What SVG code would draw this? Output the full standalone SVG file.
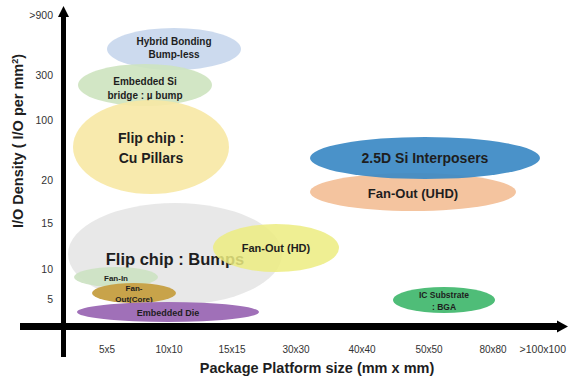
<svg xmlns="http://www.w3.org/2000/svg" width="568" height="377" viewBox="0 0 568 377">
<style>
.lbl{font-family:"Liberation Sans",Arial,sans-serif;font-weight:bold;fill:#1e1e1e;text-anchor:middle}
.tick{font-family:"Liberation Sans",Arial,sans-serif;font-size:10.5px;fill:#333;}
.yt{text-anchor:end}
.xt{text-anchor:middle;font-size:10px}
.title{font-family:"Liberation Sans",Arial,sans-serif;font-weight:bold;font-size:14.5px;fill:#1e1e1e;text-anchor:middle}
</style>
<rect width="568" height="377" fill="#fff"/>
<g id="hybrid"><ellipse cx="174" cy="49" rx="67" ry="21" fill="#c6d6ec" opacity="0.9"/>
<text class="lbl" font-size="10" x="174" y="45">Hybrid Bonding</text><text class="lbl" font-size="10" x="174" y="58">Bump-less</text></g>
<g id="embsi"><ellipse cx="145" cy="85" rx="67" ry="21" fill="#cde3bf" opacity="0.9"/>
<text class="lbl" font-size="10" x="145" y="85">Embedded Si</text><text class="lbl" font-size="10" x="145" y="99">bridge : µ bump</text></g>
<g id="cupillar"><ellipse cx="151" cy="147" rx="78" ry="47" fill="#f7e8a4" opacity="0.9"/>
<text class="lbl" font-size="14" x="151" y="143">Flip chip :</text><text class="lbl" font-size="14" x="151" y="163">Cu Pillars</text></g>
<g id="fouhd"><ellipse cx="413" cy="192" rx="103" ry="19" fill="#f4c49f"/>
<text class="lbl" font-size="13" x="413" y="198">Fan-Out (UHD)</text></g>
<g id="interposer"><ellipse cx="425" cy="158" rx="115" ry="21" fill="#3c8ac5" opacity="0.93"/>
<text class="lbl" font-size="14" x="425" y="163">2.5D Si Interposers</text></g>
<g id="bumps"><ellipse cx="175" cy="254" rx="107" ry="51" fill="#e4e4e4" opacity="0.85"/>
<text class="lbl" font-size="16.5" x="175" y="265">Flip chip : Bumps</text></g>
<g id="fohd"><ellipse cx="276" cy="248" rx="63" ry="24" fill="#ecec80" opacity="0.85"/>
<text class="lbl" font-size="11" x="276" y="252">Fan-Out (HD)</text></g>
<g id="fanin"><ellipse cx="116" cy="277" rx="42" ry="10" fill="#cde3c4" opacity="0.95"/>
<text class="lbl" font-size="8" x="116" y="281">Fan-In</text></g>
<g id="focore"><ellipse cx="134" cy="293" rx="42" ry="10" fill="#c8a34a"/>
<text class="lbl" font-size="8" x="134" y="291">Fan-</text><text class="lbl" font-size="8" x="134" y="302">Out(Core)</text></g>
<g id="embdie"><ellipse cx="168" cy="312" rx="91" ry="10" fill="#a070b8"/>
<text class="lbl" font-size="9" x="168" y="316">Embedded Die</text></g>
<g id="icsub"><ellipse cx="444" cy="300" rx="51" ry="13" fill="#4fbd78"/>
<text class="lbl" font-size="8.5" x="444" y="298">IC Substrate</text><text class="lbl" font-size="8.5" x="444" y="310">: BGA</text></g>
<g id="axes">
<rect x="61" y="14" width="5" height="343" fill="#000"/>
<polygon points="63.5,6 58,17 69,17" fill="#000"/>
<rect x="20" y="323" width="540" height="7" fill="#000"/>
<polygon points="568,326.5 557,320.5 557,332.5" fill="#000"/>
</g>
<g id="ticks">
<text class="tick yt" x="53" y="19">&gt;900</text>
<text class="tick yt" x="53" y="79">300</text>
<text class="tick yt" x="53" y="124">100</text>
<text class="tick yt" x="53" y="184">20</text>
<text class="tick yt" x="53" y="227">15</text>
<text class="tick yt" x="53" y="273">10</text>
<text class="tick yt" x="53" y="303">5</text>
<text class="tick xt" x="107" y="353">5x5</text>
<text class="tick xt" x="169" y="353">10x10</text>
<text class="tick xt" x="232" y="353">15x15</text>
<text class="tick xt" x="296" y="353">30x30</text>
<text class="tick xt" x="362" y="353">40x40</text>
<text class="tick xt" x="429" y="353">50x50</text>
<text class="tick xt" x="493" y="353">80x80</text>
<text class="tick" x="566" y="353" text-anchor="end" font-size="10">&gt;100x100</text>
</g>
<text class="title" x="317" y="373">Package Platform size (mm x mm)</text>
<text class="title" transform="translate(23,141) rotate(-90)" x="0" y="0">I/O Density ( I/O per mm<tspan font-size="9" dy="-5">2</tspan><tspan dy="5">)</tspan></text>
</svg>
